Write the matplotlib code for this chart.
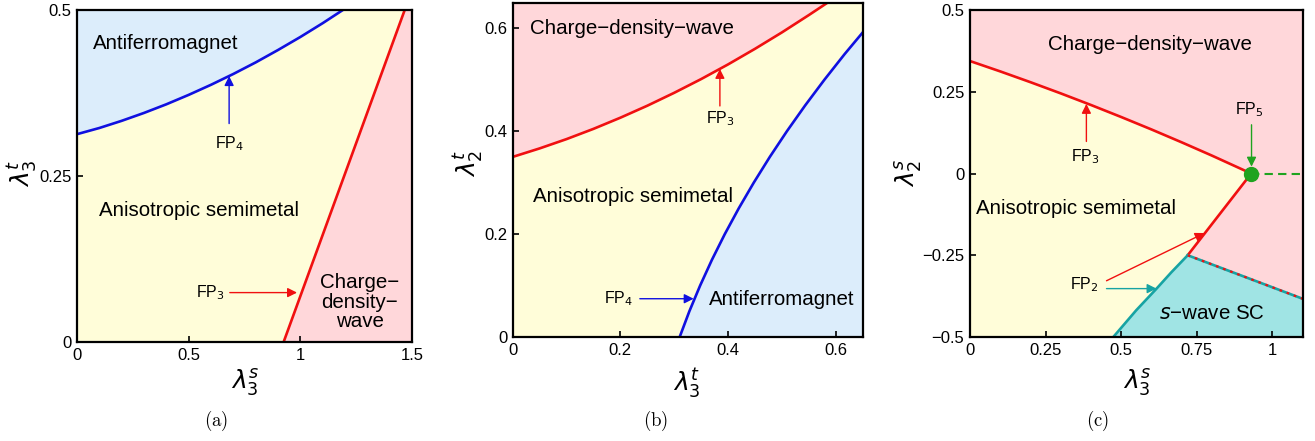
import matplotlib
matplotlib.use("Agg")
import matplotlib.pyplot as plt
import numpy as np

plt.rcParams['font.family'] = ['Liberation Sans', 'DejaVu Sans']
plt.rcParams['mathtext.fontset'] = 'dejavusans'

# ---------------- data ----------------
# panel (a): lambda3^s (x) vs lambda3^t (y)
a_blue_x = [0.0, 0.1, 0.2, 0.3, 0.4, 0.5, 0.6, 0.7, 0.8, 0.9, 1.0, 1.1, 1.19]
a_blue_y = [0.313, 0.3223, 0.3331, 0.3450, 0.3580, 0.3722, 0.3874, 0.4037,
            0.4211, 0.4398, 0.4594, 0.4802, 0.500]
a_red_x = [0.925, 1.467]
a_red_y = [0.0, 0.5]

# panel (b): lambda3^t (x) vs lambda2^t (y)
b_red_x = [0.0, 0.05, 0.1, 0.15, 0.2, 0.25, 0.3, 0.35, 0.4, 0.45, 0.5, 0.55, 0.585]
b_red_y = [0.350, 0.3665, 0.3846, 0.4045, 0.4262, 0.4495, 0.4746, 0.5013,
           0.5298, 0.5601, 0.5920, 0.6257, 0.650]
b_blue_x = [0.310, 0.328, 0.348, 0.3699, 0.3938, 0.4197, 0.4476, 0.4774,
            0.5092, 0.5430, 0.5788, 0.6165, 0.650]
b_blue_y = [0.0, 0.05, 0.1, 0.15, 0.2, 0.25, 0.3, 0.35, 0.4, 0.45, 0.5, 0.55, 0.592]

# panel (c): lambda3^s (x) vs lambda2^s (y)
c_red1_x = [0.0, 0.1, 0.2, 0.3, 0.4, 0.5, 0.6, 0.7, 0.8, 0.93]
c_red1_y = [0.344, 0.3123, 0.2793, 0.2451, 0.2096, 0.1728, 0.1348, 0.0954, 0.0548, 0.0]
c_red2_x = [0.93, 0.72]
c_red2_y = [0.0, -0.25]
c_teal_x = [0.72, 0.665, 0.617, 0.55, 0.474]
c_teal_y = [-0.25, -0.303, -0.352, -0.418, -0.5]
c_dash_x = [0.72, 1.1]
c_dash_y = [-0.25, -0.383]
c_green_x = [0.93, 1.1]
c_green_y = [0.0, 0.0]
fp5 = (0.93, 0.0)

YEL = '#FFFDD9'
PINK = '#FFD7DA'
BLUE = '#DCEDFB'
TEAL_FILL = '#A0E4E4'
RED = '#F01010'
BLU = '#1010E0'
TEAL = '#17A3A3'
GREEN = '#1FA31F'
DASH = '\u2212'

fig = plt.figure(figsize=(13.15, 4.41), dpi=100)

def style(ax, xlim, ylim, xt, xtl, yt, ytl):
    ax.set_xlim(*xlim); ax.set_ylim(*ylim)
    ax.set_xticks(xt); ax.set_xticklabels(xtl)
    ax.set_yticks(yt); ax.set_yticklabels(ytl)
    ax.tick_params(direction='in', length=4, width=1.2, labelsize=12, pad=4,
                   top=False, right=False, colors='black')
    for s in ax.spines.values():
        s.set_linewidth(1.6)
        s.set_zorder(10)

def arrow(ax, start, end, color):
    ax.annotate('', xy=end, xytext=start,
                arrowprops=dict(arrowstyle='-|>', color=color, lw=1.0,
                                mutation_scale=14, shrinkA=0, shrinkB=0))

FS = 14.8
FPS = 11.5

# ---------------- panel (a) ----------------
axa = fig.add_axes([0.05856, 0.2245, 0.2548, 0.7528])
axa.set_facecolor(YEL)
bx = np.array(a_blue_x); by = np.array(a_blue_y)
axa.fill_between(np.append(bx, 1.5), np.append(by, 0.5), 0.5, color=BLUE, lw=0)
axa.fill([a_red_x[0], a_red_x[1], 1.5, 1.5], [0, 0.5, 0.5, 0], color=PINK, lw=0)
axa.plot(a_blue_x, a_blue_y, color=BLU, lw=1.9)
axa.plot(a_red_x, a_red_y, color=RED, lw=1.9)
axa.text(0.07, 0.45, 'Antiferromagnet', fontsize=FS, va='center')
axa.text(0.097, 0.198, 'Anisotropic semimetal', fontsize=FS, va='center')
axa.text(1.266, 0.060, 'Charge' + DASH + '\ndensity' + DASH + '\nwave', fontsize=FS,
         ha='center', va='center', linespacing=1.05)
axa.text(0.681, 0.298, r'FP$_4$', fontsize=FPS, ha='center', va='center')
arrow(axa, (0.681, 0.329), (0.681, 0.4005), BLU)
axa.text(0.66, 0.0744, r'FP$_3$', fontsize=FPS, ha='right', va='center')
arrow(axa, (0.684, 0.0744), (0.985, 0.0744), RED)
style(axa, (0, 1.5), (0, 0.5), [0, 0.5, 1, 1.5], ['0', '0.5', '1', '1.5'],
      [0, 0.25, 0.5], ['0', '0.25', '0.5'])

# ---------------- panel (b) ----------------
axb = fig.add_axes([0.3899, 0.2358, 0.2662, 0.7585])
axb.set_facecolor(YEL)
rx = np.array(b_red_x); ry = np.array(b_red_y)
axb.fill_between(np.append(rx, 0.65), np.append(ry, 0.65), 0.65, color=PINK, lw=0)
axb.fill(np.append(b_blue_x, 0.65), np.append(b_blue_y, 0.0), color=BLUE, lw=0)
axb.plot(b_red_x, b_red_y, color=RED, lw=1.9)
axb.plot(b_blue_x, b_blue_y, color=BLU, lw=1.9)
axb.text(0.032, 0.60, 'Charge' + DASH + 'density' + DASH + 'wave', fontsize=FS, va='center')
axb.text(0.037, 0.273, 'Anisotropic semimetal', fontsize=FS, va='center')
axb.text(0.364, 0.0738, 'Antiferromagnet', fontsize=FS, va='center')
axb.text(0.3847, 0.424, r'FP$_3$', fontsize=FPS, ha='center', va='center')
arrow(axb, (0.3847, 0.449), (0.3847, 0.521), RED)
axb.text(0.224, 0.0744, r'FP$_4$', fontsize=FPS, ha='right', va='center')
arrow(axb, (0.236, 0.0744), (0.336, 0.0744), BLU)
style(axb, (0, 0.65), (0, 0.65), [0, 0.2, 0.4, 0.6], ['0', '0.2', '0.4', '0.6'],
      [0, 0.2, 0.4, 0.6], ['0', '0.2', '0.4', '0.6'])

# ---------------- panel (c) ----------------
axc = fig.add_axes([0.7376, 0.2358, 0.2530, 0.7415])
axc.set_facecolor(PINK)
yx = [0.0] + c_red1_x + c_red2_x[1:] + c_teal_x[1:]
yy = [-0.5] + c_red1_y + c_red2_y[1:] + c_teal_y[1:]
axc.fill(yx, yy, color=YEL, lw=0)
tx = c_teal_x[::-1] + c_dash_x[1:] + [1.1]
ty = c_teal_y[::-1] + c_dash_y[1:] + [-0.5]
axc.fill(tx, ty, color=TEAL_FILL, lw=0)
axc.plot(c_red1_x, c_red1_y, color=RED, lw=1.9)
axc.plot(c_red2_x, c_red2_y, color=RED, lw=1.9)
axc.plot(c_teal_x, c_teal_y, color=TEAL, lw=1.9)
axc.plot(c_dash_x, c_dash_y, color=TEAL, lw=1.9)
axc.plot(c_dash_x, c_dash_y, color=RED, lw=1.6, ls=(0, (1.2, 2.2)))
axc.plot(c_green_x, c_green_y, color=GREEN, lw=1.5, ls=(0, (4, 2.5)))
axc.plot([fp5[0]], [fp5[1]], 'o', color=GREEN, ms=10, zorder=5)
axc.text(0.259, 0.396, 'Charge' + DASH + 'density' + DASH + 'wave', fontsize=FS, va='center')
axc.text(0.0187, -0.106, 'Anisotropic semimetal', fontsize=FS, va='center')
axc.text(0.6256, -0.4287, r'$s$' + DASH + 'wave SC', fontsize=FS, va='center')
axc.text(0.383, 0.052, r'FP$_3$', fontsize=FPS, ha='center', va='center')
arrow(axc, (0.385, 0.098), (0.385, 0.213), RED)
axc.text(0.925, 0.194, r'FP$_5$', fontsize=FPS, ha='center', va='center')
arrow(axc, (0.931, 0.149), (0.931, 0.021), GREEN)
axc.text(0.377, -0.34, r'FP$_2$', fontsize=FPS, ha='center', va='center')
arrow(axc, (0.4515, -0.328), (0.776, -0.182), RED)
arrow(axc, (0.4515, -0.352), (0.617, -0.352), TEAL)
style(axc, (0, 1.1), (-0.5, 0.5), [0, 0.25, 0.5, 0.75, 1],
      ['0', '0.25', '0.5', '0.75', '1'],
      [-0.5, -0.25, 0, 0.25, 0.5], ['\u22120.5', '\u22120.25', '0', '0.25', '0.5'])

# ---------------- axis labels and captions ----------------
def fx(px): return px / 1315.0
def fy(py): return 1 - py / 441.0
LS = 18
fig.text(fx(245), fy(383), r'$\lambda_3^s$', fontsize=LS, ha='center', va='center')
fig.text(fx(22), fy(173), r'$\lambda_3^t$', fontsize=LS, ha='center', va='center', rotation=90)
fig.text(fx(687), fy(383), r'$\lambda_3^t$', fontsize=LS, ha='center', va='center')
fig.text(fx(468), fy(163), r'$\lambda_2^t$', fontsize=LS, ha='center', va='center', rotation=90)
fig.text(fx(1137), fy(383), r'$\lambda_3^s$', fontsize=LS, ha='center', va='center')
fig.text(fx(908), fy(173), r'$\lambda_2^s$', fontsize=LS, ha='center', va='center', rotation=90)
for cx, lab in [(216, 'a'), (656, 'b'), (1097, 'c')]:
    fig.text(fx(cx), fy(421), r'$\mathrm{(%s)}$' % lab, fontsize=13.5,
             ha='center', va='center', math_fontfamily='cm')

fig.savefig('out.png', dpi=100)
